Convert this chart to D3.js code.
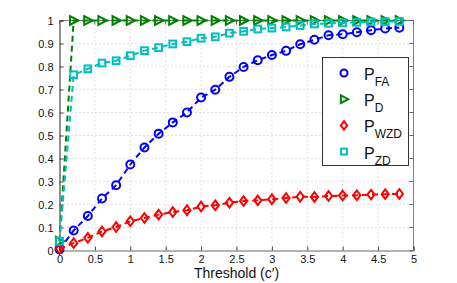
<!DOCTYPE html>
<html><head><meta charset="utf-8">
<script src="https://cdn.jsdelivr.net/npm/d3@7/dist/d3.min.js"></script>
<style>body{margin:0;background:#fff}svg{display:block;font-family:"Liberation Sans",Arial,sans-serif}</style>
</head><body><svg id="c" width="457" height="283"></svg>
<script>
const thresholds = [0,0.2,0.4,0.6,0.8,1.0,1.2,1.4,1.6,1.8,2.0,2.2,2.4,2.6,2.8,3.0,3.2,3.4,3.6,3.8,4.0,4.2,4.4,4.6,4.8];
const pFA  = [0.005,0.087,0.15,0.226,0.284,0.374,0.448,0.508,0.557,0.6,0.665,0.699,0.755,0.798,0.827,0.85,0.868,0.897,0.916,0.936,0.94,0.949,0.958,0.965,0.969];
const pD   = [0.04,1,1,1,1,1,1,1,1,1,1,1,1,1,1,1,1,1,1,1,1,1,1,1,1];
const pWZD = [0.007,0.032,0.055,0.083,0.102,0.127,0.141,0.156,0.167,0.175,0.191,0.197,0.208,0.215,0.218,0.223,0.228,0.234,0.233,0.237,0.239,0.24,0.243,0.245,0.246];
const pZD  = [0.04,0.764,0.79,0.815,0.825,0.847,0.869,0.882,0.898,0.908,0.923,0.929,0.945,0.953,0.963,0.967,0.972,0.978,0.985,0.988,0.99,0.992,0.994,0.995,0.996];
const xTicks = [0,0.5,1,1.5,2,2.5,3,3.5,4,4.5,5];
const yTicks = [0,0.1,0.2,0.3,0.4,0.5,0.6,0.7,0.8,0.9,1];
const seriesNames = ["FA","D","WZD","ZD"];
const seriesColors = ["#0000ff","#008000","#ff0000","#00bfbf"];
const seriesMarkers = ["circle","triangle","diamond","square"];
const seriesValues = [pFA,pD,pWZD,pZD];

const svg = d3.select("#c");
const L=59.5, R=413.5, T=20.5, B=250.5;
const x = d3.scaleLinear().domain([0,5]).range([L,R]);
const y = d3.scaleLinear().domain([0,1]).range([B,T]);

// grid
const g = svg.append("g");
g.selectAll(".gx").data(xTicks.slice(1,-1)).enter().append("line")
 .attr("x1",d=>x(d)).attr("x2",d=>x(d)).attr("y1",T).attr("y2",B)
 .attr("stroke","#c8c8c8").attr("stroke-width",1).attr("stroke-dasharray","1,3");
g.selectAll(".gy").data(yTicks.slice(1,-1)).enter().append("line")
 .attr("y1",d=>y(d)).attr("y2",d=>y(d)).attr("x1",L).attr("x2",R)
 .attr("stroke","#c8c8c8").attr("stroke-width",1).attr("stroke-dasharray","1,3");

// box (top/right gray)
svg.append("line").attr("x1",L).attr("x2",R).attr("y1",T).attr("y2",T).attr("stroke","#808080");
svg.append("line").attr("x1",R).attr("x2",R).attr("y1",T).attr("y2",B).attr("stroke","#808080");

// axes
const xAxis = d3.axisBottom(x).tickValues(xTicks).tickSize(-4).tickPadding(5).tickFormat(d3.format("~g"));
const yAxis = d3.axisLeft(y).tickValues(yTicks).tickSize(-4).tickPadding(6).tickFormat(d3.format("~g"));
const ax = svg.append("g").attr("transform",`translate(0,${B})`).call(xAxis);
const ay = svg.append("g").attr("transform",`translate(${L},0)`).call(yAxis);
[ax,ay].forEach(a=>{
  a.select(".domain").attr("stroke","#222");
  a.selectAll(".tick line").attr("stroke","#444");
  a.selectAll("text").attr("font-size",11).attr("fill","#111").attr("font-family","Liberation Sans, Arial, sans-serif");
});
ax.select(".domain").attr("stroke","#666");
// right/top ticks
svg.append("g").selectAll("line").data(yTicks).enter().append("line")
 .attr("x1",R).attr("x2",R-4).attr("y1",d=>y(d)).attr("y2",d=>y(d)).attr("stroke","#666");
svg.append("g").selectAll("line").data(xTicks).enter().append("line")
 .attr("y1",T).attr("y2",T+4).attr("x1",d=>x(d)).attr("x2",d=>x(d)).attr("stroke","#666");

svg.append("text").attr("x",(L+R)/2).attr("y",278).attr("text-anchor","middle")
 .attr("font-size",14).attr("fill","#111").text("Threshold (c\u2032)");

function marker(sel,type,color,s){
  if(type==="circle") sel.append("circle").attr("r",s*0.5).attr("fill","none").attr("stroke",color).attr("stroke-width",2);
  else if(type==="square") sel.append("rect").attr("x",-s*0.42).attr("y",-s*0.42).attr("width",s*0.84).attr("height",s*0.84).attr("fill","none").attr("stroke",color).attr("stroke-width",2);
  else if(type==="diamond") sel.append("path").attr("d",`M0,${-s*0.6}L${s*0.45},0L0,${s*0.6}L${-s*0.45},0Z`).attr("fill","none").attr("stroke",color).attr("stroke-width",2);
  else if(type==="triangle") sel.append("path").attr("d",`M${-s*0.45},${-s*0.55}L${s*0.6},0L${-s*0.45},${s*0.55}Z`).attr("fill","none").attr("stroke",color).attr("stroke-width",2);
}

const line = d3.line().x((d,i)=>x(thresholds[i])).y(d=>y(d));
seriesValues.forEach((vals,k)=>{
  const c = seriesColors[k];
  svg.append("path").datum(vals).attr("d",line).attr("fill","none").attr("stroke",c)
    .attr("stroke-width",2).attr("stroke-dasharray","6,4");
  const mg = svg.append("g");
  vals.forEach((v,i)=>{
    const m = mg.append("g").attr("transform",`translate(${x(thresholds[i])},${y(v)})`);
    marker(m,seriesMarkers[k],c,8);
  });
});

// legend
const lg = svg.append("g");
lg.append("rect").attr("x",322.5).attr("y",57.5).attr("width",86).attr("height",108)
  .attr("fill","#fff").attr("stroke","#333").attr("stroke-width",1);
seriesNames.forEach((n,k)=>{
  const yy = 73 + k*26.2;
  const m = lg.append("g").attr("transform",`translate(344,${yy})`);
  marker(m,seriesMarkers[k],seriesColors[k],7);
  const t = lg.append("text").attr("x",364).attr("y",yy+7).attr("font-size",16).attr("fill","#111");
  t.append("tspan").text("P");
  t.append("tspan").attr("dy",6).attr("font-size",12).text(n);
});
</script></body></html>
